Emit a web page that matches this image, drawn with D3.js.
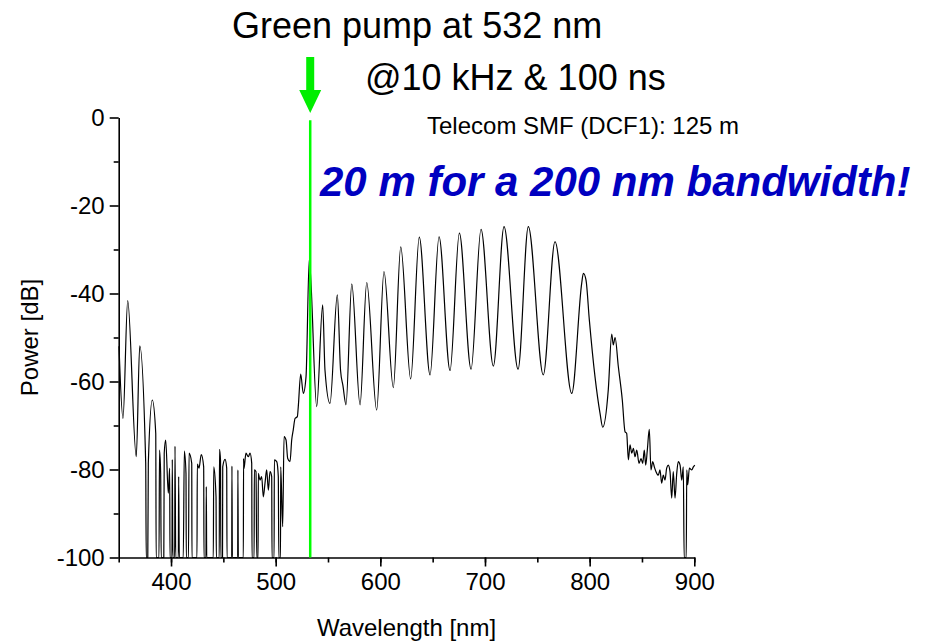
<!DOCTYPE html>
<html>
<head>
<meta charset="utf-8">
<script src="https://cdn.jsdelivr.net/npm/d3@7"></script>
<style>
  body { margin: 0; background: #fff; }
  svg { display: block; font-family: Arial, "Liberation Sans", sans-serif; }
</style>
</head>
<body>
<div id="chart"></div>
<script>
// spectrum: wavelength (nm) and power (dB)
const wavelengths = [
  350.3, 354.1, 358.6, 366.8, 370.1, 375.8, 376.3, 377.8, 378.3, 382.1,
  385.4, 385.8, 388.5, 389.0, 390.1, 390.6, 393.1, 393.5, 394.9, 397.4,
  398.7, 399.0, 400.9, 401.2, 401.8, 403.5, 403.8, 404.5, 407.0, 407.3,
  407.9, 411.7, 412.7, 414.3, 414.6, 416.7, 417.2, 419.8, 420.0, 424.8,
  425.1, 426.7, 428.9, 431.2, 431.5, 433.4, 433.7, 434.1, 440.4, 440.8,
  443.0, 443.3, 446.1, 446.3, 447.3, 447.6, 449.2, 449.4, 451.6, 453.2,
  453.5, 458.0, 458.2, 458.6, 463.7, 463.9, 464.3, 469.1, 469.3, 469.7,
  471.6, 473.8, 475.5, 477.1, 477.4, 479.4, 479.6, 481.2, 481.9, 483.2,
  483.4, 485.0, 486.6, 488.2, 489.8, 491.4, 493.0, 494.6, 496.2, 496.5,
  498.5, 498.7, 501.0, 502.5, 503.0, 504.6, 504.8, 506.7, 508.0, 509.9,
  511.5, 513.7, 515.3, 516.8, 518.5, 520.7, 521.6, 523.9, 526.4, 529.0,
  532.1, 539.2, 544.9, 547.1, 551.9, 558.9, 562.0, 564.3, 567.2, 572.7,
  580.6, 587.0, 596.5, 603.5, 612.4, 619.5, 629.0, 637.2, 647.5, 656.1,
  666.6, 675.5, 686.7, 696.2, 708.0, 718.2, 731.6, 741.4, 755.7, 766.9,
  782.9, 792.4, 794.0, 796.5, 799.7, 805.1, 809.9, 812.5, 817.8, 821.1,
  822.6, 824.3, 827.4, 831.2, 833.8, 835.4, 837.0, 838.6, 840.2, 841.8,
  843.4, 845.0, 847.2, 849.1, 850.7, 852.2, 853.6, 855.1, 857.0, 858.6,
  860.3, 861.8, 863.4, 865.6, 867.2, 868.8, 870.4, 872.0, 873.6, 875.1,
  876.8, 878.4, 879.9, 881.6, 883.2, 884.7, 886.4, 888.0, 889.5, 890.3,
  892.3, 892.8, 893.7, 895.3, 897.6, 899.1, 900.5,
];

const powerDb = [
  -52, -68.4, -41.6, -77.1, -51.9, -78.6, -100, -100, -78.6, -64.2,
  -71.8, -100, -100, -75.6, -80.9, -100, -100, -76.3, -73.3, -85.4,
  -79.7, -100, -100, -77.7, -100, -100, -74.7, -100, -100, -81.6,
  -100, -100, -75.8, -80.9, -100, -100, -76.3, -78.6, -100, -100,
  -78.8, -79.7, -76.6, -79.4, -100, -100, -83.9, -100, -100, -79.4,
  -86.2, -100, -100, -75.4, -78, -100, -100, -79.4, -77.7, -79.7,
  -100, -100, -79.2, -100, -100, -80.1, -100, -100, -77.5, -79.8,
  -76.3, -77.1, -76.3, -78.6, -100, -100, -80.1, -80.5, -100, -100,
  -80.9, -82.4, -81.6, -86.2, -83.1, -80.1, -84.7, -80.5, -81.6, -100,
  -100, -77.8, -78.2, -81.6, -100, -100, -79.4, -93, -72.5, -73.3,
  -77.5, -78.2, -73.3, -71, -68.4, -68, -65.7, -58.3, -62.7, -58.9,
  -32.2, -65.7, -42.6, -57.4, -65, -40.3, -57.5, -61, -65.3, -37.8,
  -65.3, -37.5, -66.5, -35, -61.4, -29.4, -59.4, -27.2, -58.5, -27.1,
  -57.5, -26.3, -57.2, -25.4, -56.5, -24.8, -57.2, -24.8, -58.5, -28.2,
  -62.7, -37.7, -35.4, -36.9, -46, -58.9, -67.2, -70.4, -61.9, -49.2,
  -51.7, -50, -56.6, -64.2, -71.4, -71.8, -77.8, -74.4, -76.3, -75.2,
  -77.1, -75.6, -78.6, -77.5, -78.6, -75.6, -79, -75.6, -70.9, -80.1,
  -78.2, -79.4, -80.5, -81.3, -80.1, -83.1, -81.3, -82.4, -79.7, -79,
  -80.5, -86.5, -80.5, -86.5, -80.9, -78.2, -79, -82.4, -79.4, -100,
  -100, -80.1, -83.5, -79.7, -80.1, -79.4, -79,
];

const xTickValues = [400, 500, 600, 700, 800, 900];
const yTickValues = [0, -20, -40, -60, -80, -100];
const pumpWavelength = 533;

function renderSpectrum(element) {
  const width = 925;
  const height = 642;
  const margin = { top: 117.5, right: 230.7, bottom: 84.5, left: 118.7 };

  const data = wavelengths.map((w, i) => ({ w, p: powerDb[i] }));

  const x = d3
    .scaleLinear()
    .domain([350, 900])
    .range([margin.left, width - margin.right]);

  const y = d3
    .scaleLinear()
    .domain([-100, 0])
    .range([height - margin.bottom, margin.top]);

  const plainNumber = (d) => String(d); // hyphen minus, like the original

  const svg = d3
    .select(element)
    .append("svg")
    .attr("width", width)
    .attr("height", height);

  // axes: long ticks every 100 nm / 20 dB, short ones in between
  svg
    .append("g")
    .attr("transform", `translate(0,${y(-100)})`)
    .call(d3.axisBottom(x).tickValues(d3.range(350, 901, 50)).tickSize(5).tickFormat(""))
    .call((g) => g.select(".domain").remove());
  svg
    .append("g")
    .attr("transform", `translate(0,${y(-100)})`)
    .call(
      d3
        .axisBottom(x)
        .tickValues(xTickValues)
        .tickSize(9)
        .tickPadding(6)
        .tickSizeOuter(0)
        .tickFormat(plainNumber)
    )
    .call((g) => g.selectAll("text").attr("font-size", 24).attr("font-family", null));

  svg
    .append("g")
    .attr("transform", `translate(${x(350)},0)`)
    .call(d3.axisLeft(y).tickValues(d3.range(-90, 0, 20)).tickSize(5).tickFormat(""))
    .call((g) => g.select(".domain").remove());
  svg
    .append("g")
    .attr("transform", `translate(${x(350)},0)`)
    .call(
      d3
        .axisLeft(y)
        .tickValues(yTickValues)
        .tickSize(9)
        .tickPadding(5)
        .tickSizeOuter(0)
        .tickFormat(plainNumber)
    )
    .call((g) => g.selectAll("text").attr("font-size", 24).attr("font-family", null));

  svg.selectAll(".domain, .tick line").attr("stroke-width", 1.6);

  svg
    .append("text")
    .attr("x", (x(350) + x(900)) / 2)
    .attr("y", 636)
    .attr("text-anchor", "middle")
    .attr("font-size", 24)
    .text("Wavelength [nm]");

  svg
    .append("text")
    .attr("transform", `translate(38,${(y(0) + y(-100)) / 2}) rotate(-90)`)
    .attr("text-anchor", "middle")
    .attr("font-size", 24)
    .text("Power [dB]");

  const line = d3
    .line()
    .x((d) => x(d.w))
    .y((d) => y(d.p))
    .curve(d3.curveMonotoneX);

  svg
    .append("path")
    .datum(data)
    .attr("fill", "none")
    .attr("stroke", "#000")
    .attr("stroke-width", 1.2)
    .attr("stroke-linejoin", "round")
    .attr("d", line);

  // pump line and arrow
  const px = x(pumpWavelength);
  svg
    .append("line")
    .attr("x1", px)
    .attr("x2", px)
    .attr("y1", y(-0.6))
    .attr("y2", y(-100))
    .attr("stroke", "#00ff00")
    .attr("stroke-width", 2.5);

  svg
    .append("path")
    .attr("fill", "#00ee00")
    .attr(
      "d",
      `M${px - 4},57 H${px + 4} V90 H${px + 11} L${px},113 L${px - 11},90 H${px - 4} Z`
    );

  svg
    .append("text")
    .attr("x", 232)
    .attr("y", 38)
    .attr("font-size", 36)
    .text("Green pump at 532 nm");

  svg
    .append("text")
    .attr("x", 365)
    .attr("y", 90)
    .attr("font-size", 36)
    .text("@10 kHz & 100 ns");

  svg
    .append("text")
    .attr("x", 427)
    .attr("y", 134)
    .attr("font-size", 24)
    .text("Telecom SMF (DCF1): 125 m");

  svg
    .append("text")
    .attr("x", 320)
    .attr("y", 196)
    .attr("font-size", 42)
    .attr("font-weight", "bold")
    .attr("font-style", "italic")
    .attr("fill", "#0000c0")
    .text("20 m for a 200 nm bandwidth!");
}

renderSpectrum(document.getElementById("chart"));
</script>
</body>
</html>
